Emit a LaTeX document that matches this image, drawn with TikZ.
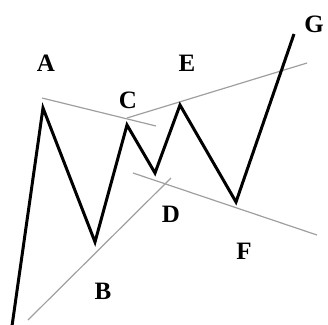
\documentclass[tikz,border=0pt]{standalone}
\usepackage{fontspec}
\setmainfont{Liberation Serif}
\begin{document}
\begin{tikzpicture}[
      x=1pt, y=-1pt,
      lbl/.style={font=\bfseries\fontsize{25}{29}\selectfont, inner sep=0pt},
      wave/.style={line width=3pt, black, line join=miter},
      trend/.style={line width=1.2pt, gray!75}
    ]
    \useasboundingbox (0,0) rectangle (328,324);

    % Vertici dell'onda
    \coordinate (P0) at (12,326);
    \coordinate (PA) at (43,108);
    \coordinate (PB) at (95,242);
    \coordinate (PC) at (127,125);
    \coordinate (PD) at (155,173);
    \coordinate (PE) at (180,105);
    \coordinate (PF) at (236,202);
    \coordinate (PG) at (294,34);

    % Estremi delle linee di tendenza
    \coordinate (AC1) at (42,98);
    \coordinate (AC2) at (156,126);
    \coordinate (CE1) at (127,118);
    \coordinate (CE2) at (307,63);
    \coordinate (BD1) at (28,320);
    \coordinate (BD2) at (171,178);
    \coordinate (DF1) at (133,173);
    \coordinate (DF2) at (317,235);

    % Linee di tendenza
    \draw[trend] (AC1) -- (AC2);
    \draw[trend] (CE1) -- (CE2);
    \draw[trend] (BD1) -- (BD2);
    \draw[trend] (DF1) -- (DF2);

    % Onda
    \draw[wave] (P0) -- (PA) -- (PB) -- (PC) -- (PD) -- (PE) -- (PF) -- (PG);

    % Etichette
    \node[lbl] (A) at (46,63) {A};
    \node[lbl] (B) at (103,291) {B};
    \node[lbl] (C) at (128,100) {C};
    \node[lbl] (D) at (171,214) {D};
    \node[lbl] (E) at (187,63) {E};
    \node[lbl] (F) at (244,251) {F};
    \node[lbl] (G) at (314,24) {G};
  \end{tikzpicture}
\end{document}
